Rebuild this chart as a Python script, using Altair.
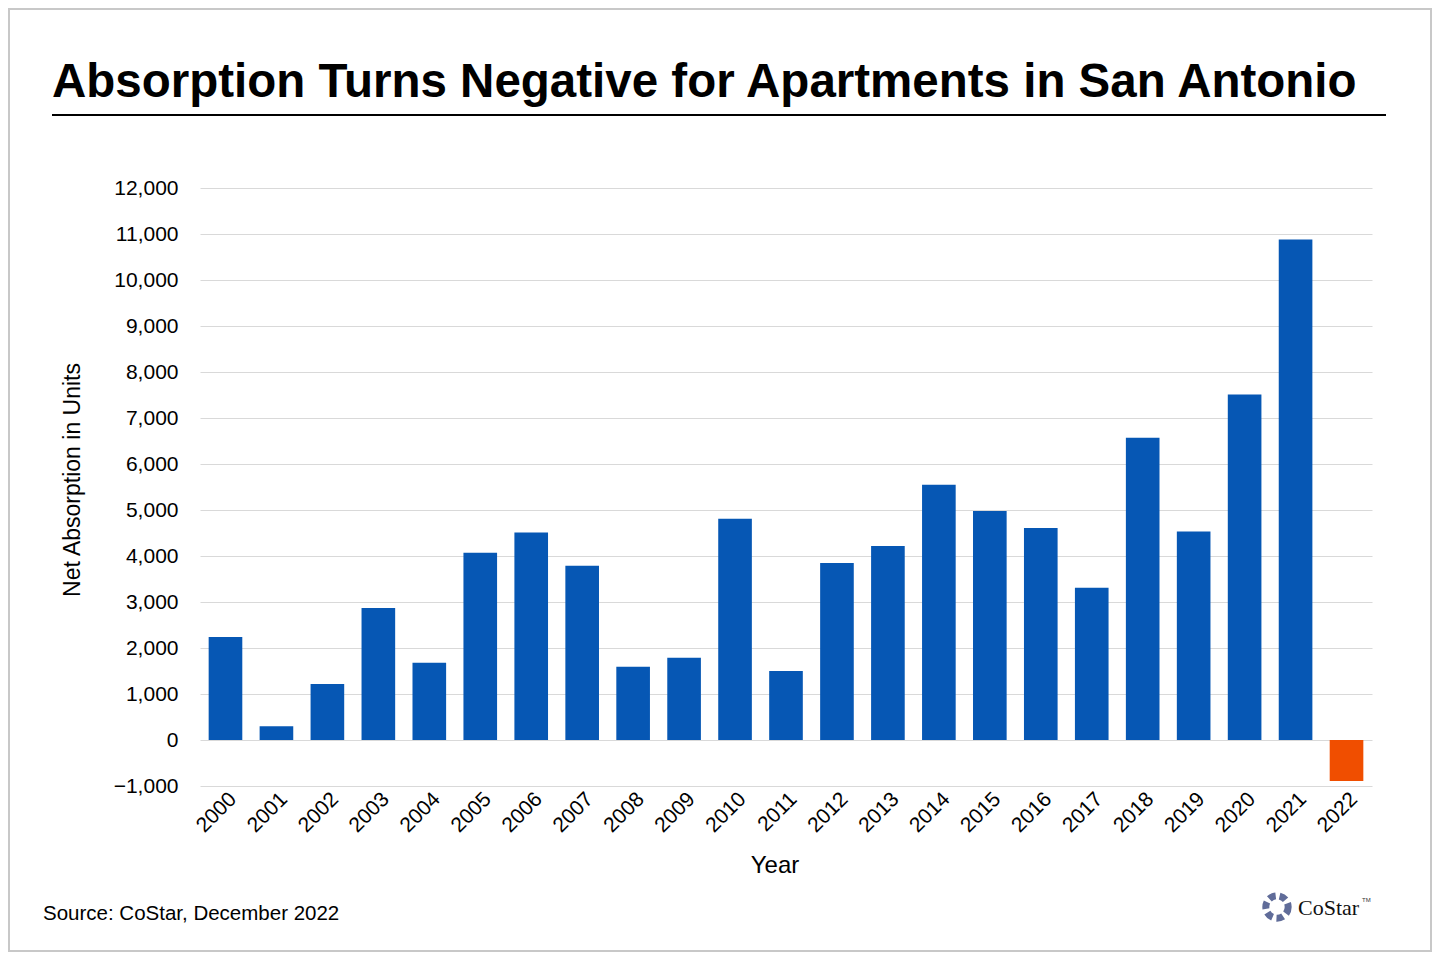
import pandas as pd
import altair as alt

years = [str(y) for y in range(2000, 2023)]
absorption = [2240, 300, 1220, 2870, 1680, 4070, 4510, 3790, 1590, 1790, 4810,
              1500, 3850, 4220, 5550, 4980, 4610, 3310, 6570, 4530, 7510, 10880, -890]

df = pd.DataFrame({'year': years, 'units': absorption})
df['neg'] = df['units'] < 0

W, H = 1172, 598
FONT = 'Liberation Sans'

bars = alt.Chart(df).mark_bar().encode(
    alt.X('year:N', title=None, sort=None,
          scale=alt.Scale(paddingInner=0.34, paddingOuter=0.17),
          axis=alt.Axis(labelAngle=-45, labelFontSize=21, labelFont=FONT,
                        labelColor='black', domain=False, ticks=False,
                        labelPadding=2)),
    alt.Y('units:Q', title=None,
          scale=alt.Scale(domain=[-1000, 12000], nice=False),
          axis=alt.Axis(values=list(range(-1000, 13000, 1000)), format=',.0f',
                        labelFontSize=21, labelFont=FONT, labelColor='black',
                        domain=False, ticks=False, labelPadding=22,
                        gridColor='#d9d9d9')),
    color=alt.Color('neg:N', scale=alt.Scale(domain=[False, True],
                    range=['#0657b4', '#f04e00']), legend=None),
)

def label(text, x, y, size, **kw):
    return alt.Chart({'values': [{}]}).mark_text(
        text=text, fontSize=size, font=kw.pop('font', FONT), color=kw.pop('color', 'black'), **kw
    ).encode(x=alt.value(x), y=alt.value(y))

title = label('Absorption Turns Negative for Apartments in San Antonio', -148, -91, 47.5,
              fontWeight='bold', align='left', baseline='alphabetic')
underline = alt.Chart({'values': [{}]}).mark_rule(color='black', strokeWidth=2).encode(
    x=alt.value(-148), x2=alt.value(1186), y=alt.value(-73))
ytitle = label('Net Absorption in Units', -127, 292, 23, angle=270)
xtitle = label('Year', 575, 678, 24)
source = label('Source: CoStar, December 2022', -157, 726, 20.5, align='left')
logo = label('CoStar', 1098, 720, 22, font='Liberation Serif', color='#111', align='left')
tm = label('TM', 1162, 712, 6, align='left', color='#333')
icon = alt.Chart({'values': [{}]}).mark_point(
    shape='circle', size=500, strokeWidth=7, color='#1d2f6f', strokeDash=[7, 4]).encode(
    x=alt.value(1077), y=alt.value(719))
border = alt.Chart({'values': [{}]}).mark_rect(fill=None, stroke='#c8c8c8', strokeWidth=2).encode(
    x=alt.value(-191), x2=alt.value(1231), y=alt.value(-179), y2=alt.value(763))

chart = (bars + title + underline + ytitle + xtitle + source + logo + tm + icon + border).properties(
    width=W, height=H,
    autosize=alt.AutoSizeParams(type='none'),
    padding={'left': 192, 'top': 180, 'right': 60, 'bottom': 166},
).configure_view(stroke=None)

chart.save('out.html', embed_options={'renderer': 'svg', 'actions': False})
